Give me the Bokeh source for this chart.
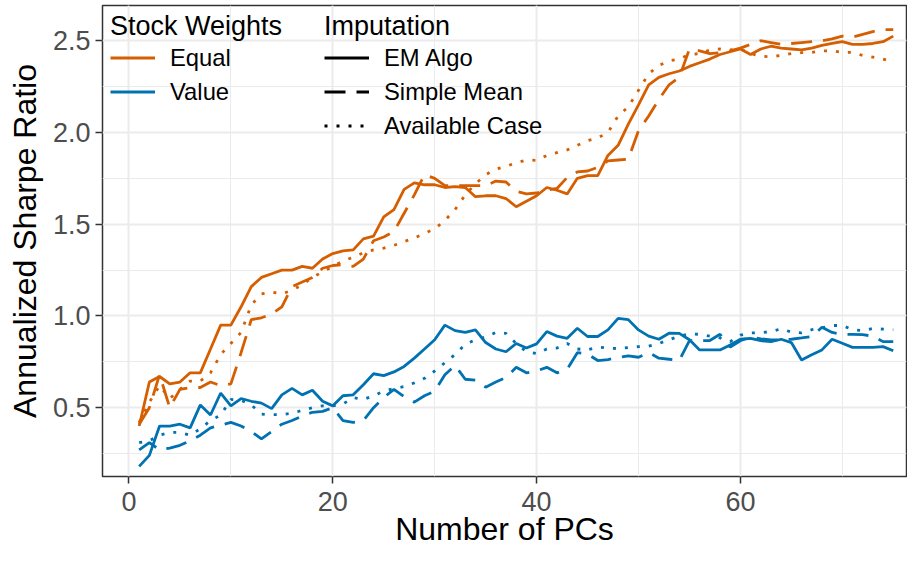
from bokeh.plotting import figure
from bokeh.models import Legend, LegendItem, SingleIntervalTicker, Range1d, CustomJSTickFormatter
from bokeh.embed import file_html
from bokeh.resources import INLINE

pcs = list(range(1, 76))

eq_em = [0.40, 0.64, 0.67, 0.63, 0.64, 0.69, 0.69, 0.82, 0.95, 0.95,
         1.05, 1.16, 1.21, 1.23, 1.25, 1.25, 1.27, 1.26, 1.31, 1.34,
         1.355, 1.36, 1.42, 1.435, 1.54, 1.58, 1.69, 1.725, 1.715, 1.715,
         1.70, 1.705, 1.70, 1.65, 1.655, 1.655, 1.64, 1.595, 1.625, 1.655,
         1.70, 1.685, 1.665, 1.75, 1.765, 1.765, 1.875, 1.93, 2.045, 2.15,
         2.26, 2.30, 2.32, 2.335, 2.36, 2.38, 2.40, 2.425, 2.44, 2.455,
         2.425, 2.455, 2.47, 2.46, 2.455, 2.45, 2.46, 2.475, 2.485, 2.495,
         2.48, 2.48, 2.485, 2.495, 2.525]
eq_sm = [0.41, 0.50, 0.68, 0.50, 0.60, 0.61, 0.61, 0.64, 0.62, 0.63,
         0.80, 0.98, 0.99, 1.01, 1.05, 1.16, 1.185, 1.21, 1.26, 1.275,
         1.28, 1.27, 1.31, 1.41, 1.43, 1.46, 1.56, 1.66, 1.77, 1.75,
         1.71, 1.71, 1.71, 1.71, 1.71, 1.735, 1.73, 1.68, 1.665, 1.67,
         1.685, 1.695, 1.755, 1.785, 1.79, 1.81, 1.845, 1.85, 1.855, 2.01,
         2.09, 2.18, 2.26, 2.30, 2.455, 2.445, 2.43, 2.435, 2.445, 2.46,
         2.48, 2.50, 2.49, 2.48, 2.485, 2.49, 2.495, 2.50, 2.51, 2.525,
         2.52, 2.535, 2.55, 2.56, 2.56]
eq_ac = [0.42, 0.53, 0.62, 0.55, 0.60, 0.645, 0.645, 0.69, 0.79, 0.85,
         0.91, 1.06, 1.12, 1.13, 1.12, 1.14, 1.17, 1.21, 1.24, 1.27,
         1.30, 1.32, 1.345, 1.36, 1.37, 1.385, 1.405, 1.425, 1.45, 1.475,
         1.52, 1.58, 1.66, 1.72, 1.77, 1.80, 1.815, 1.835, 1.85, 1.848,
         1.875, 1.89, 1.905, 1.93, 1.955, 1.97, 2.00, 2.09, 2.14, 2.23,
         2.32, 2.365, 2.39, 2.40, 2.425, 2.43, 2.45, 2.455, 2.45, 2.455,
         2.43, 2.415, 2.413, 2.42, 2.43, 2.435, 2.436, 2.445, 2.445, 2.436,
         2.436, 2.42, 2.41, 2.40, 2.385]
va_em = [0.18, 0.24, 0.40, 0.40, 0.41, 0.39, 0.515, 0.46, 0.58, 0.51,
         0.55, 0.535, 0.525, 0.495, 0.57, 0.605, 0.57, 0.595, 0.535, 0.51,
         0.565, 0.57, 0.625, 0.685, 0.675, 0.695, 0.725, 0.77, 0.82, 0.87,
         0.95, 0.92, 0.91, 0.924, 0.855, 0.82, 0.805, 0.85, 0.825, 0.848,
         0.915, 0.89, 0.878, 0.933, 0.888, 0.888, 0.924, 0.987, 0.98, 0.924,
         0.89, 0.873, 0.906, 0.905, 0.87, 0.815, 0.815, 0.815, 0.842, 0.873,
         0.878, 0.865, 0.86, 0.873, 0.855, 0.76, 0.788, 0.815, 0.873, 0.851,
         0.829, 0.829, 0.829, 0.833, 0.81]
va_sm = [0.27, 0.31, 0.27, 0.28, 0.295, 0.32, 0.35, 0.39, 0.405, 0.42,
         0.40, 0.37, 0.33, 0.37, 0.41, 0.43, 0.455, 0.475, 0.48, 0.50,
         0.43, 0.42, 0.43, 0.50, 0.555, 0.60, 0.56, 0.53, 0.565, 0.59,
         0.68, 0.73, 0.655, 0.65, 0.612, 0.64, 0.665, 0.72, 0.69, 0.70,
         0.72, 0.69, 0.71, 0.80, 0.793, 0.757, 0.762, 0.773, 0.782, 0.775,
         0.80, 0.77, 0.764, 0.757, 0.865, 0.866, 0.866, 0.90, 0.83, 0.865,
         0.884, 0.875, 0.87, 0.87, 0.873, 0.88, 0.888, 0.938, 0.91, 0.90,
         0.90, 0.898, 0.89, 0.86, 0.86]
va_ac = [0.31, 0.32, 0.35, 0.365, 0.365, 0.35, 0.385, 0.43, 0.46, 0.545,
         0.54, 0.515, 0.465, 0.462, 0.462, 0.47, 0.485, 0.50, 0.51, 0.51,
         0.52, 0.555, 0.545, 0.565, 0.59, 0.605, 0.615, 0.635, 0.66, 0.70,
         0.745, 0.79, 0.845, 0.87, 0.885, 0.91, 0.905, 0.85, 0.805, 0.795,
         0.82, 0.825, 0.85, 0.82, 0.815, 0.83, 0.825, 0.822, 0.828, 0.833,
         0.835, 0.85, 0.87, 0.89, 0.902, 0.90, 0.89, 0.88, 0.86, 0.895,
         0.907, 0.909, 0.915, 0.93, 0.912, 0.908, 0.925, 0.935, 0.948, 0.948,
         0.925, 0.92, 0.932, 0.928, 0.925]

weights = ["Equal", "Value"]
imputations = ["EM Algo", "Simple Mean", "Available Case"]

ORANGE = "#D55E00"
BLUE = "#0072B2"
DASHES = {"EM Algo": "solid", "Simple Mean": "21 11", "Available Case": "3 9"}
FONT = "Liberation Sans"
LW = 2.8

p = figure(width=907, height=549, output_backend="svg", toolbar_location=None,
           x_range=Range1d(-2.6, 76.3), y_range=Range1d(0.125, 2.692),
           min_border_left=102, min_border_right=1, min_border_top=5,
           min_border_bottom=69, background_fill_color="white",
           border_fill_color="white")

series = [
    ("Equal", "EM Algo", eq_em, ORANGE),
    ("Equal", "Simple Mean", eq_sm, ORANGE),
    ("Equal", "Available Case", eq_ac, ORANGE),
    ("Value", "EM Algo", va_em, BLUE),
    ("Value", "Simple Mean", va_sm, BLUE),
    ("Value", "Available Case", va_ac, BLUE),
]
rend = {}
for w, imp, ys, col in series:
    rend[(w, imp)] = p.line(pcs, ys, line_color=col, line_width=LW,
                            line_dash=DASHES[imp])

# key-only renderers for the black linetype legend (a single missing point)
nan = float("nan")
dummies = {}
for imp in imputations:
    dummies[imp] = p.line(x=[nan], y=[nan], line_color="black", line_width=LW,
                          line_dash=DASHES[imp])

p.xaxis.ticker = SingleIntervalTicker(interval=20, num_minor_ticks=2)
p.yaxis.ticker = SingleIntervalTicker(interval=0.5, num_minor_ticks=2)
p.yaxis.formatter = CustomJSTickFormatter(code="return tick.toFixed(1)")

for ax in (p.xaxis[0], p.yaxis[0]):
    ax.axis_line_color = None
    ax.major_tick_line_color = "#333333"
    ax.major_tick_line_width = 1.5
    ax.major_tick_out = 7
    ax.major_tick_in = 0
    ax.minor_tick_line_color = None
    ax.major_label_text_font = FONT
    ax.major_label_text_font_size = "27px"
    ax.major_label_text_color = "#4D4D4D"
    ax.axis_label_text_font = FONT
    ax.axis_label_text_font_size = "32px"
    ax.axis_label_text_font_style = "normal"
    ax.axis_label_text_color = "black"

p.xaxis.axis_label = "Number of PCs"
p.yaxis.axis_label = "Annualized Sharpe Ratio"
p.xaxis.major_label_standoff = 8
p.xaxis.axis_label_standoff = -3
p.yaxis.major_label_standoff = 5
p.yaxis.axis_label_standoff = 7

for g in (p.xgrid[0], p.ygrid[0]):
    g.grid_line_color = "#EBEBEB"
    g.grid_line_width = 2
    g.minor_grid_line_color = "#EBEBEB"
    g.minor_grid_line_width = 1

p.outline_line_color = "#333333"
p.outline_line_width = 1.5

common = dict(background_fill_alpha=0, border_line_alpha=0, padding=0, margin=0,
              glyph_width=45, glyph_height=31, label_height=31, spacing=3,
              label_standoff=15, title_standoff=-2,
              title_text_font=FONT, title_text_font_size="27px",
              title_text_font_style="normal", title_text_color="black",
              label_text_font=FONT, label_text_font_size="23.8px",
              label_text_color="black")

leg1 = Legend(items=[LegendItem(label=w, renderers=[rend[(w, "EM Algo")]])
                     for w in weights],
              title="Stock Weights", location=(8, 369), **common)
leg2 = Legend(items=[LegendItem(label=imp, renderers=[dummies[imp]])
                     for imp in imputations],
              title="Imputation", location=(222, 335), **common)
p.add_layout(leg1)
p.add_layout(leg2)

open("out.html", "w").write(file_html(p, INLINE))
